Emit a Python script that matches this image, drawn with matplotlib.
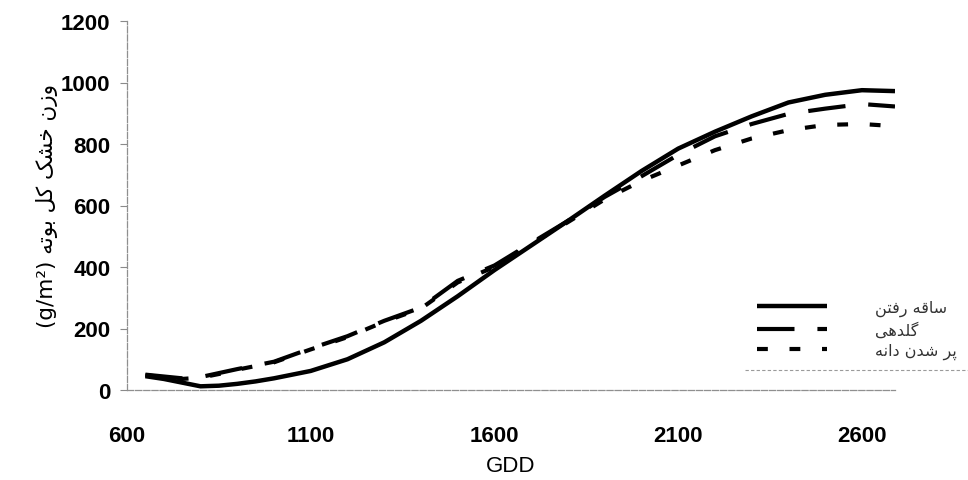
import matplotlib
matplotlib.use("Agg")
import matplotlib.pyplot as plt
from matplotlib.lines import Line2D

# Growing degree days and total plant dry weight (g/m2) for three sowing/treatment curves
gdd = [650, 700, 750, 800, 850, 900, 950, 1000, 1100, 1200, 1300, 1400, 1500,
       1600, 1700, 1800, 1900, 2000, 2100, 2200, 2300, 2400, 2500, 2600, 2690]
stem_elongation = [45, 36, 24, 12, 14, 20, 28, 38, 62, 100, 155, 225, 305,
                   390, 470, 550, 632, 712, 785, 840, 890, 935, 960, 975, 972]
flowering = [50, 44, 38, 42, 55, 68, 80, 92, 135, 175, 225, 268, 355,
             405, 478, 550, 628, 695, 765, 825, 865, 898, 915, 930, 922]
grain_filling = [48, 42, 36, 40, 52, 66, 78, 90, 132, 172, 222, 265, 350,
                 400, 475, 546, 620, 680, 730, 780, 818, 845, 862, 865, 858]

series_labels = ["ساقه رفتن", "گلدهی", "پر شدن دانه"]
y_title = "وزن خشک کل بوته"
y_unit = "(g/m²)"
x_title = "GDD"
x_ticks = [600, 1100, 1600, 2100, 2600]
y_ticks = [0, 200, 400, 600, 800, 1000, 1200]

# Contextual forms (isolated, final, initial, medial) for the Persian letters used
FORMS = {
    "ا": ("\ufe8d", "\ufe8e", None, None),
    "ب": ("\ufe8f", "\ufe90", "\ufe91", "\ufe92"),
    "پ": ("\ufb56", "\ufb57", "\ufb58", "\ufb59"),
    "ت": ("\ufe95", "\ufe96", "\ufe97", "\ufe98"),
    "خ": ("\ufea5", "\ufea6", "\ufea7", "\ufea8"),
    "د": ("\ufea9", "\ufeaa", None, None),
    "ر": ("\ufead", "\ufeae", None, None),
    "ز": ("\ufeaf", "\ufeb0", None, None),
    "س": ("\ufeb1", "\ufeb2", "\ufeb3", "\ufeb4"),
    "ش": ("\ufeb5", "\ufeb6", "\ufeb7", "\ufeb8"),
    "ف": ("\ufed1", "\ufed2", "\ufed3", "\ufed4"),
    "ق": ("\ufed5", "\ufed6", "\ufed7", "\ufed8"),
    "ک": ("\ufb8e", "\ufb8f", "\ufb90", "\ufb91"),
    "گ": ("\ufb92", "\ufb93", "\ufb94", "\ufb95"),
    "ل": ("\ufedd", "\ufede", "\ufedf", "\ufee0"),
    "ن": ("\ufee5", "\ufee6", "\ufee7", "\ufee8"),
    "ه": ("\ufee9", "\ufeea", "\ufeeb", "\ufeec"),
    "و": ("\ufeed", "\ufeee", None, None),
    "ی": ("\ufbfc", "\ufbfd", "\ufbfe", "\ufbff"),
}


def shape_rtl(text):
    """Join Persian letters and return them in visual (left-to-right) order."""
    chars = list(text)
    out = []
    for i, ch in enumerate(chars):
        if ch not in FORMS:
            out.append(ch)
            continue
        iso, fin, ini, med = FORMS[ch]
        prev = chars[i - 1] if i > 0 else ""
        nxt = chars[i + 1] if i + 1 < len(chars) else ""
        join_prev = prev in FORMS and FORMS[prev][2] is not None
        join_next = ini is not None and nxt in FORMS
        if join_prev and join_next:
            out.append(med)
        elif join_prev:
            out.append(fin)
        elif join_next:
            out.append(ini)
        else:
            out.append(iso)
    return "".join(reversed(out))


plt.rcParams["font.family"] = ["Liberation Sans", "DejaVu Sans"]

fig = plt.figure(figsize=(9.68, 4.81), dpi=100)
ax = fig.add_axes([127 / 968, 1 - 391 / 481, (895 - 127) / 968, (391 - 22) / 481])

ax.plot(gdd, stem_elongation, color="black", lw=3.2, solid_capstyle="butt",
        label=shape_rtl(series_labels[0]))
ax.plot(gdd, flowering, color="black", lw=3.0, dashes=(9, 5.5),
        label=shape_rtl(series_labels[1]))
ax.plot(gdd, grain_filling, color="black", lw=3.0, dashes=(2.6, 5.2),
        label=shape_rtl(series_labels[2]))

ax.set_xlim(600, 2690)
ax.set_ylim(0, 1200)
ax.set_xticks(x_ticks)
ax.set_yticks(y_ticks)
ax.tick_params(axis="y", direction="out", length=5, width=0.8, color="#8a8a8a",
               pad=7, labelsize=16)
ax.tick_params(axis="x", direction="out", length=0, pad=25, labelsize=16)
for lab in ax.get_xticklabels() + ax.get_yticklabels():
    lab.set_fontweight("bold")

for side in ("top", "right"):
    ax.spines[side].set_visible(False)
for side in ("left", "bottom"):
    ax.spines[side].set_color("#8f8f8f")
    ax.spines[side].set_linewidth(0.9)
    ax.spines[side].set_linestyle((0, (5, 1.5)))

ax.set_xlabel(x_title, fontsize=16, labelpad=7)
ax.set_ylabel(y_unit + " " + shape_rtl(y_title), fontsize=15.5,
              family=["DejaVu Sans"], labelpad=2)

leg = ax.legend(loc="upper left", bbox_to_anchor=(757 / 968, 1 - 301 / 481),
                bbox_transform=fig.transFigure, frameon=False, fontsize=11.5,
                handlelength=4.4, handletextpad=3.0, labelspacing=0.3,
                borderpad=0, borderaxespad=0)
for t in leg.get_texts():
    t.set_family(["DejaVu Sans"])
    t.set_color("#333333")

# Lower edge of the legend box
fig.add_artist(Line2D([745 / 968, 1.0], [1 - 371 / 481] * 2, transform=fig.transFigure,
                      color="#9a9a9a", lw=0.8, linestyle=(0, (3, 2))))

fig.savefig("out.png", dpi=100, facecolor="white")
